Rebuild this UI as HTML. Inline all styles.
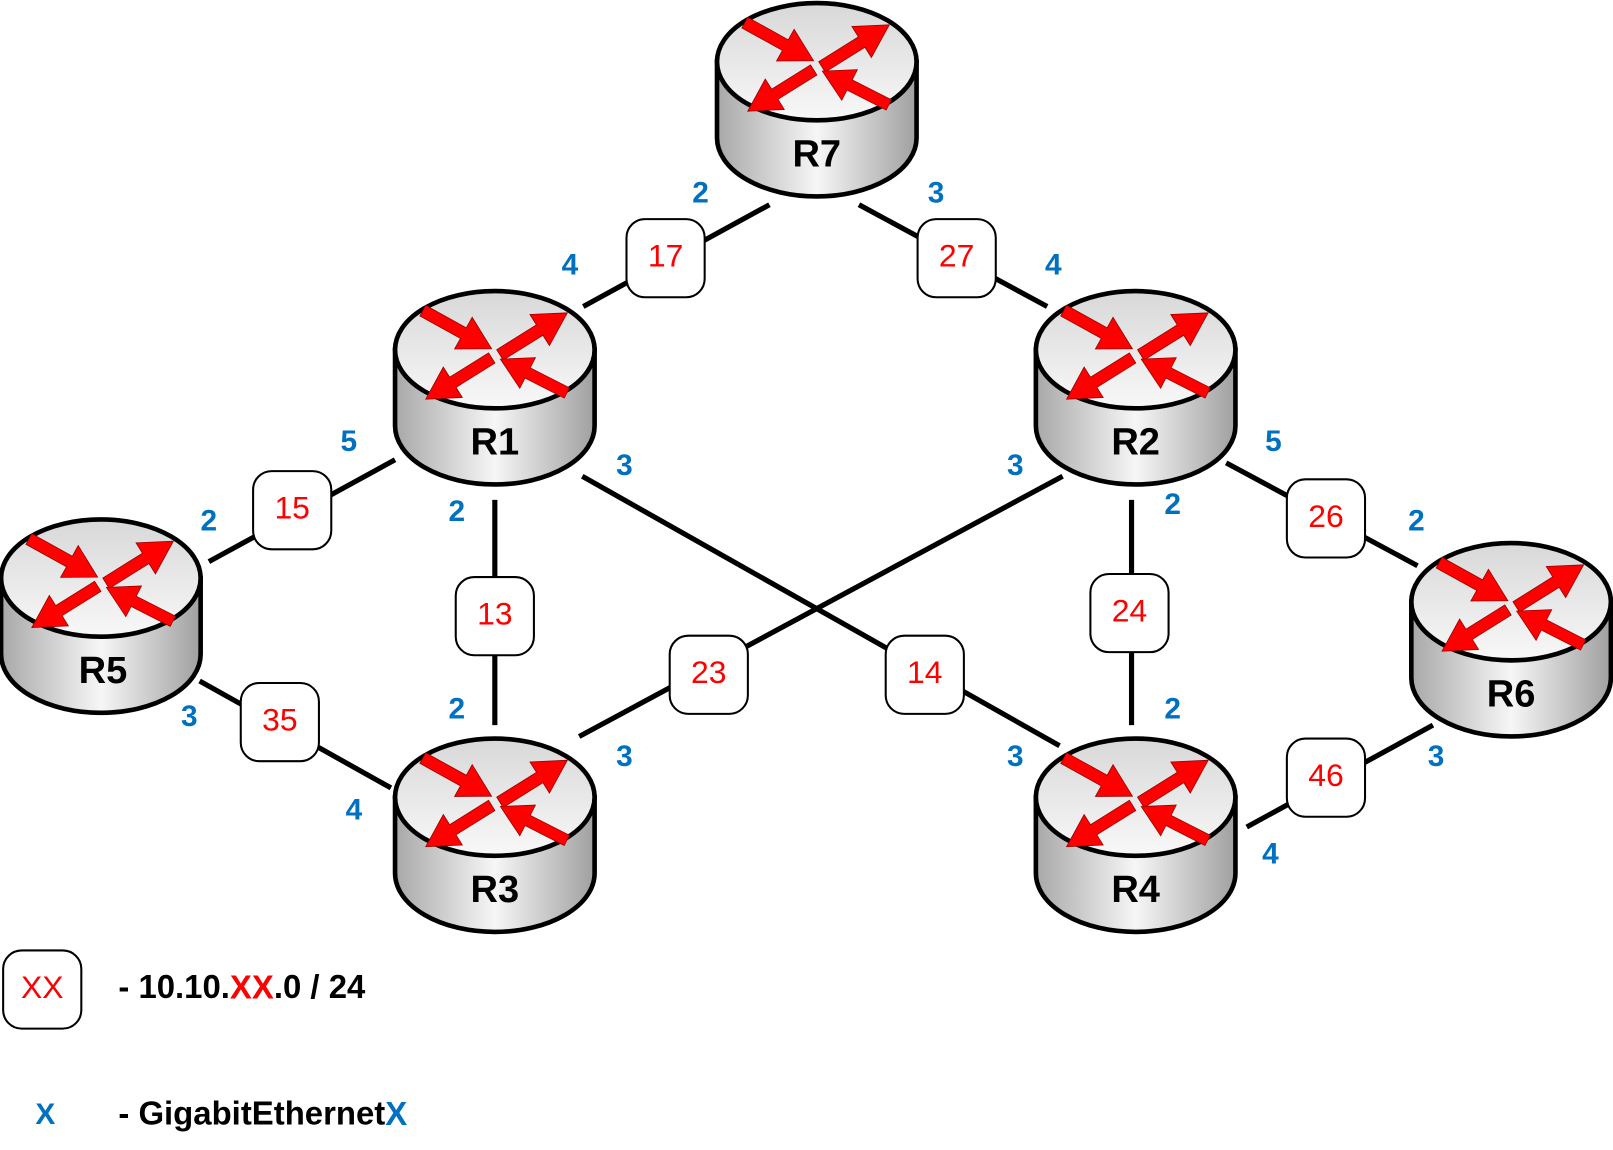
<!DOCTYPE html>
<html><head><meta charset="utf-8"><style>
html,body{margin:0;padding:0;background:#fff;}
svg{display:block;}
text{font-family:"Liberation Sans",Arial,sans-serif;}
.p{fill:#0070c0;font-weight:bold;font-size:29px;text-anchor:middle;dominant-baseline:middle;}
.b{fill:#ff0000;font-size:31px;text-anchor:middle;dominant-baseline:middle;}
.rl{fill:#000;font-weight:bold;font-size:37px;text-anchor:middle;dominant-baseline:middle;}
</style></head><body>
<svg width="1613" height="1150" viewBox="0 0 1568 1118" xmlns="http://www.w3.org/2000/svg">
<defs>
<linearGradient id="side" x1="0" x2="1" y1="0" y2="0">
<stop offset="0" stop-color="#a8a8a8"/><stop offset="0.5" stop-color="#f6f6f6"/><stop offset="1" stop-color="#a0a0a0"/>
</linearGradient>
<linearGradient id="top" x1="0" x2="0" y1="0" y2="1">
<stop offset="0" stop-color="#d8d8d8"/><stop offset="1" stop-color="#f8f8f8"/>
</linearGradient>
<g id="arrow"><polygon points="0,-6 46,-6 46,-18 78,0 46,18 46,6 0,6" fill="#ff0000" stroke="#900" stroke-width="0.8"/></g>
<g id="router">
<path d="M-97,0 L-97,74 A97,57 0 0 0 97,74 L97,0 Z" fill="url(#side)" stroke="#000" stroke-width="4.5"/>
<ellipse cx="0" cy="0" rx="97" ry="57" fill="url(#top)" stroke="#000" stroke-width="4.5"/>
<use href="#arrow" transform="translate(-70,-38) rotate(29) scale(0.98)"/>
<use href="#arrow" transform="translate(5,5) rotate(-32) scale(0.99)"/>
<use href="#arrow" transform="translate(-3,8) rotate(148) scale(0.97)"/>
<use href="#arrow" transform="translate(70,42) rotate(207) scale(0.93)"/>
</g>
<g id="box"><rect x="-38" y="-38" width="76" height="76" rx="18" fill="#fff" stroke="#000" stroke-width="2"/></g>
</defs>
<g stroke="#000" stroke-width="5" stroke-linecap="butt">
<line x1="748" y1="199" x2="567" y2="298"/>
<line x1="835" y1="199" x2="1018" y2="298"/>
<line x1="384" y1="447" x2="203" y2="546"/>
<line x1="481" y1="486" x2="481" y2="705"/>
<line x1="566" y1="463" x2="1030" y2="725"/>
<line x1="1033" y1="463" x2="563" y2="716"/>
<line x1="1100" y1="486" x2="1100" y2="705"/>
<line x1="1192" y1="450" x2="1378" y2="550"/>
<line x1="194" y1="662" x2="380" y2="766"/>
<line x1="1393" y1="705" x2="1212" y2="804"/>
</g>
<use href="#router" x="794" y="60"/>
<use href="#router" x="481" y="340"/>
<use href="#router" x="1104" y="340"/>
<use href="#router" x="98" y="562"/>
<use href="#router" x="481" y="775"/>
<use href="#router" x="1104" y="775"/>
<use href="#router" x="1469" y="585"/>
<text class="rl" x="794" y="152">R7</text>
<text class="rl" x="481" y="432">R1</text>
<text class="rl" x="1104" y="432">R2</text>
<text class="rl" x="100" y="654">R5</text>
<text class="rl" x="481" y="867">R3</text>
<text class="rl" x="1104" y="867">R4</text>
<text class="rl" x="1469" y="677">R6</text>
<use href="#box" x="647" y="251"/><text class="b" x="647" y="251">17</text>
<use href="#box" x="930" y="251"/><text class="b" x="930" y="251">27</text>
<use href="#box" x="284" y="496"/><text class="b" x="284" y="496">15</text>
<use href="#box" x="481" y="599"/><text class="b" x="481" y="599">13</text>
<use href="#box" x="899" y="656"/><text class="b" x="899" y="656">14</text>
<use href="#box" x="689" y="656"/><text class="b" x="689" y="656">23</text>
<use href="#box" x="1098" y="596"/><text class="b" x="1098" y="596">24</text>
<use href="#box" x="1289" y="504"/><text class="b" x="1289" y="504">26</text>
<use href="#box" x="272" y="702"/><text class="b" x="272" y="702">35</text>
<use href="#box" x="1289" y="756"/><text class="b" x="1289" y="756">46</text>
<text class="p" x="681" y="189">2</text><text class="p" x="910" y="189">3</text>
<text class="p" x="554" y="259">4</text><text class="p" x="339" y="431">5</text><text class="p" x="444" y="499">2</text><text class="p" x="607" y="454">3</text>
<text class="p" x="1024" y="259">4</text><text class="p" x="987" y="454">3</text><text class="p" x="1238" y="431">5</text><text class="p" x="1140" y="492">2</text>
<text class="p" x="203" y="508">2</text><text class="p" x="184" y="698">3</text>
<text class="p" x="444" y="691">2</text><text class="p" x="344" y="789">4</text><text class="p" x="607" y="737">3</text>
<text class="p" x="987" y="737">3</text><text class="p" x="1140" y="691">2</text><text class="p" x="1235" y="832">4</text>
<text class="p" x="1377" y="508">2</text><text class="p" x="1396" y="737">3</text>
<use href="#box" x="41" y="962"/><text class="b" x="41" y="962">XX</text>
<text x="115" y="962" font-size="32" font-weight="bold" dominant-baseline="middle">- 10.10.<tspan fill="#ff0000">XX</tspan>.0 / 24</text>
<text class="p" x="44" y="1085" font-size="32">X</text>
<text x="115" y="1085" font-size="32" font-weight="bold" dominant-baseline="middle">- GigabitEthernet<tspan fill="#0070c0">X</tspan></text>
</svg>
</body></html>
